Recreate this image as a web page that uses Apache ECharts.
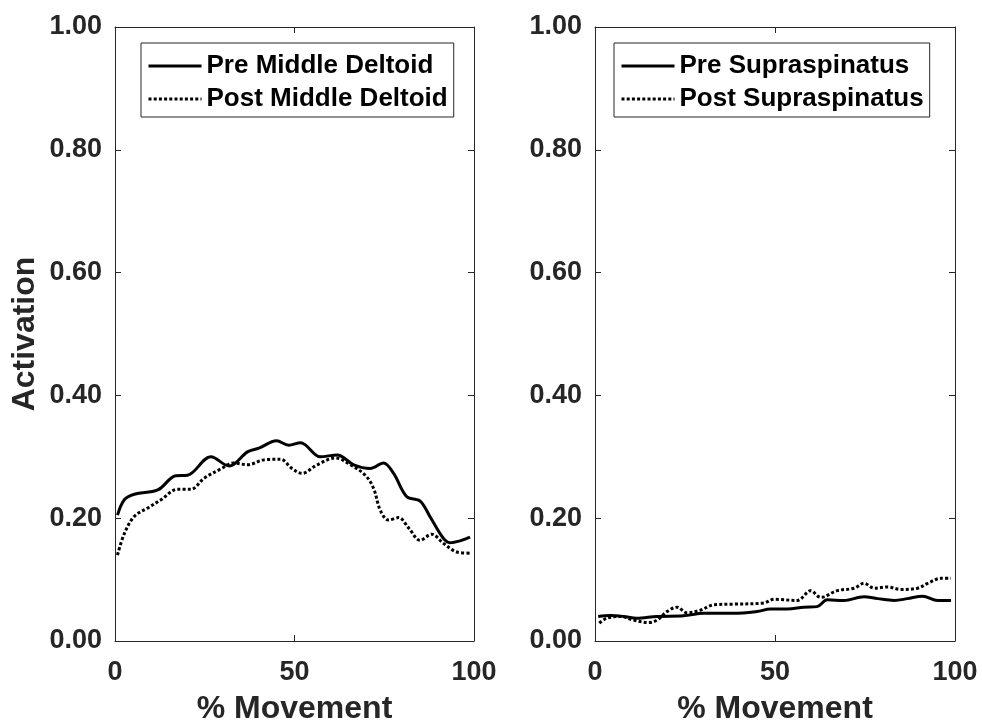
<!DOCTYPE html>
<html><head><meta charset="utf-8">
<script src="https://cdn.jsdelivr.net/npm/echarts@6/dist/echarts.min.js"></script>
<style>html,body{margin:0;padding:0;background:#fff}#c{width:982px;height:723px}</style>
</head><body><div id="c"></div>
<script>
// ---- data ----
const preDeltoidX  = [0.7, 2.6, 5.4, 11.9, 16.9, 20.2, 26.7, 31.8, 36.9, 40.1, 45.0, 48.4, 51.7, 57.2, 61.9, 66.5, 71.1, 74.8, 77.6, 81.3, 85.0, 87.8, 91.5, 93.3, 96.1, 98.9];
const preDeltoidY  = [0.205, 0.230, 0.239, 0.246, 0.269, 0.270, 0.300, 0.285, 0.308, 0.314, 0.326, 0.319, 0.323, 0.300, 0.303, 0.287, 0.281, 0.290, 0.273, 0.235, 0.228, 0.202, 0.167, 0.160, 0.163, 0.169];
const postDeltoidX = [0.7, 2.6, 5.4, 9.5, 12.8, 17.4, 21.1, 24.8, 29.4, 33.1, 36.9, 41.5, 46.1, 49.3, 52.1, 56.3, 61.4, 65.6, 69.7, 72.0, 73.9, 76.2, 79.0, 81.8, 85.0, 88.2, 91.5, 95.2, 98.9];
const postDeltoidY = [0.140, 0.175, 0.203, 0.218, 0.230, 0.247, 0.247, 0.265, 0.280, 0.290, 0.287, 0.295, 0.296, 0.281, 0.273, 0.287, 0.298, 0.287, 0.270, 0.249, 0.213, 0.197, 0.201, 0.184, 0.164, 0.174, 0.159, 0.145, 0.143];
const preSupraX  = [0.9, 4.2, 7.9, 11.6, 17.2, 24.6, 30.2, 38.5, 45.0, 48.7, 53.4, 58.0, 61.7, 64.5, 69.2, 74.7, 78.5, 83.1, 86.8, 91.0, 95.2, 98.9];
const preSupraY  = [0.040, 0.0415, 0.040, 0.037, 0.040, 0.041, 0.045, 0.045, 0.048, 0.052, 0.052, 0.055, 0.056, 0.067, 0.066, 0.072, 0.069, 0.066, 0.069, 0.073, 0.066, 0.066];
const postSupraX = [1.2, 3.2, 7.0, 10.7, 14.9, 17.2, 20.0, 22.8, 25.5, 29.2, 33.0, 38.5, 46.9, 49.7, 56.2, 59.9, 62.7, 67.3, 72.0, 74.7, 77.6, 81.3, 84.9, 89.6, 92.4, 96.1, 98.9];
const postSupraY = [0.029, 0.037, 0.040, 0.034, 0.030, 0.034, 0.048, 0.055, 0.046, 0.050, 0.059, 0.060, 0.062, 0.068, 0.066, 0.082, 0.071, 0.082, 0.086, 0.094, 0.086, 0.088, 0.084, 0.086, 0.094, 0.102, 0.102];
const leftNames  = ['Pre Middle Deltoid', 'Post Middle Deltoid'];
const rightNames = ['Pre Supraspinatus', 'Post Supraspinatus'];
const xName = '% Movement';
const yName = 'Activation';

// ---- chart ----
function pairs(xs, ys) { return xs.map((x, i) => [x, ys[i]]); }
const FONT = 'Liberation Sans';
const TXT = '#262626';
const AX = '#262626';
const DOT = [3, 2.2];

function xAxes(gi) {
  return [
    { gridIndex: gi, type: 'value', position: 'bottom', min: 0, max: 100, interval: 50,
      name: xName, nameLocation: 'middle', nameGap: 52,
      nameTextStyle: { fontFamily: FONT, fontWeight: 'bold', fontSize: 32, color: TXT },
      axisLine: { show: true, onZero: false, lineStyle: { color: AX, width: 1 } },
      axisTick: { show: true, inside: true, length: 6, lineStyle: { color: AX } },
      axisLabel: { fontFamily: FONT, fontWeight: 'bold', fontSize: 27, color: TXT, margin: 18 },
      splitLine: { show: false } },
    { gridIndex: gi, type: 'value', position: 'top', min: 0, max: 100, interval: 50,
      axisLine: { show: true, onZero: false, lineStyle: { color: AX, width: 1 } },
      axisTick: { show: true, inside: true, length: 6, lineStyle: { color: AX } },
      axisLabel: { show: false }, splitLine: { show: false } }
  ];
}
function yAxes(gi, withName) {
  return [
    { gridIndex: gi, type: 'value', position: 'left', min: 0, max: 1, interval: 0.2,
      name: withName ? yName : '', nameLocation: 'middle', nameGap: 74,
      nameTextStyle: { fontFamily: FONT, fontWeight: 'bold', fontSize: 32, color: TXT },
      axisLine: { show: true, onZero: false, lineStyle: { color: AX, width: 1 } },
      axisTick: { show: true, inside: true, length: 6, lineStyle: { color: AX } },
      axisLabel: { fontFamily: FONT, fontWeight: 'bold', fontSize: 27, color: TXT, margin: 13,
                   formatter: v => v.toFixed(2) },
      splitLine: { show: false } },
    { gridIndex: gi, type: 'value', position: 'right', min: 0, max: 1, interval: 0.2,
      axisLine: { show: true, onZero: false, lineStyle: { color: AX, width: 1 } },
      axisTick: { show: true, inside: true, length: 6, lineStyle: { color: AX } },
      axisLabel: { show: false }, splitLine: { show: false } }
  ];
}
function lineSeries(name, data, xi, yi, dotted) {
  return { name, type: 'line', xAxisIndex: xi, yAxisIndex: yi, data,
    smooth: 0.35, showSymbol: false, symbol: 'none', animation: false,
    color: '#000',
    lineStyle: { color: '#000', width: 3, type: dotted ? DOT : 'solid', cap: 'butt' } };
}
function legend(left, top, names) {
  return { orient: 'vertical', left, top, itemGap: 7,
    data: [
      { name: names[0], lineStyle: { width: 3, type: 'solid', color: '#000' } },
      { name: names[1], lineStyle: { width: 3, type: DOT, color: '#000' } }
    ],
    itemWidth: 53, itemHeight: 14,
    itemStyle: { opacity: 0, color: 'transparent', borderWidth: 0 },
    padding: [10, 6, 5, 6], borderColor: '#262626', borderWidth: 1, backgroundColor: '#fff',
    textStyle: { fontFamily: FONT, fontWeight: 'bold', fontSize: 26, lineHeight: 26, color: '#000' } };
}

const chart = echarts.init(document.getElementById('c'), null, { renderer: 'canvas' });
chart.setOption({
  animation: false,
  backgroundColor: '#fff',
  grid: [
    { left: 115, top: 27, width: 359, height: 614, outerBoundsMode: 'none', containLabel: false },
    { left: 595, top: 27, width: 360, height: 614, outerBoundsMode: 'none', containLabel: false }
  ],
  xAxis: [...xAxes(0), ...xAxes(1)],
  yAxis: [...yAxes(0, true), ...yAxes(1, false)],
  legend: [legend(141, 43, leftNames), legend(614, 43, rightNames)],
  series: [
    lineSeries(leftNames[0], pairs(preDeltoidX, preDeltoidY), 0, 0, false),
    lineSeries(leftNames[1], pairs(postDeltoidX, postDeltoidY), 0, 0, true),
    lineSeries(rightNames[0], pairs(preSupraX, preSupraY), 2, 2, false),
    lineSeries(rightNames[1], pairs(postSupraX, postSupraY), 2, 2, true)
  ]
});
</script></body></html>
